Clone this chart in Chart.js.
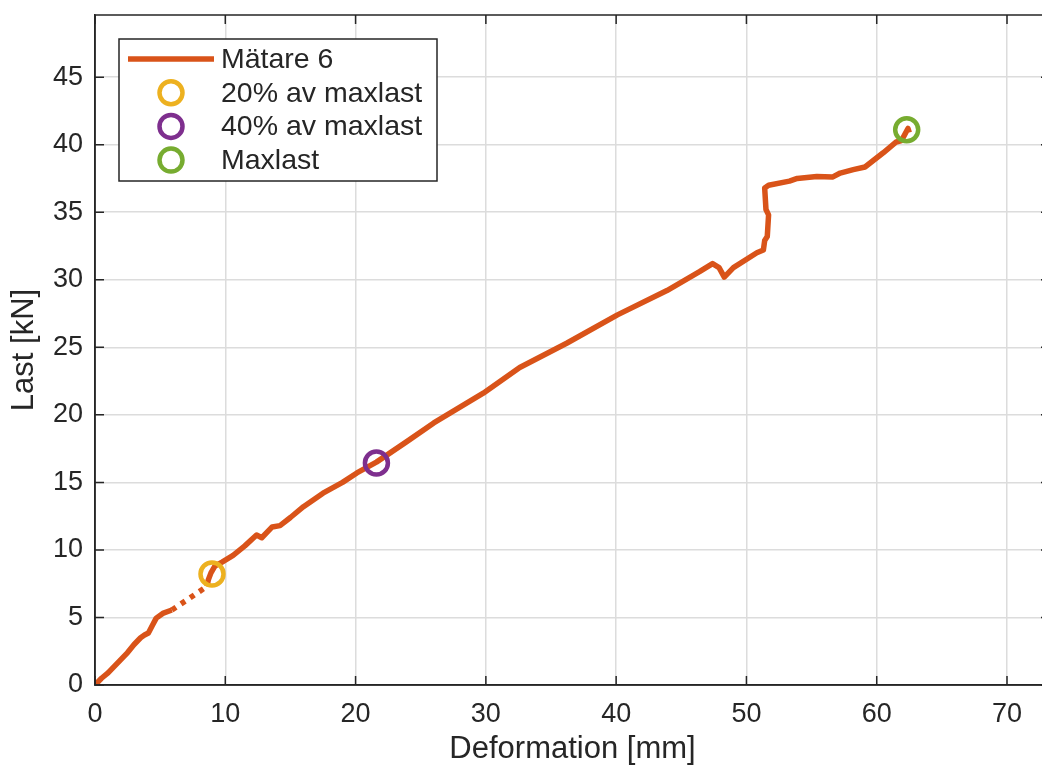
<!DOCTYPE html>
<html>
<head>
<meta charset="utf-8">
<script src="https://cdn.jsdelivr.net/npm/chart.js@4/dist/chart.umd.min.js"></script>
<style>
  html, body { margin: 0; padding: 0; background: #fff; overflow: hidden; }
  body { width: 1042px; height: 769px; }
  canvas { display: block; }
</style>
</head>
<body>
<!-- the figure is a little wider than the window: its right edge is cut off -->
<canvas id="chart" width="1050" height="769"></canvas>
<script>
// Mätare 6 trace
const deformation = [0, 0.5, 1.0, 1.5, 2.0, 2.5, 3.0, 3.5, 3.8, 4.1, 4.4, 4.7, 5.2, 5.9,
    8.6, 8.7, 8.9, 9.2, 9.75, 10.6, 11.5, 12.4, 12.8, 13.6, 14.2, 15.0, 16.0, 17.5, 19.0, 20.1,
    21.6, 23.9, 26.0, 29.8, 32.6, 36.2, 40.1, 43.9, 46.4, 47.4, 47.9, 48.3, 49.0, 50.8, 51.3,
    51.4, 51.6, 51.7, 51.5, 51.4, 51.7, 53.3, 53.9, 55.4, 56.6, 57.2, 58.2, 59.1, 60.5, 61.5,
    61.9, 62.4, 62.5];
const load = [0, 0.5, 0.9, 1.4, 1.9, 2.4, 3.0, 3.5, 3.7, 3.85, 4.4, 4.95, 5.3, 5.55,
    7.3, 7.8, 8.3, 8.8, 9.1, 9.6, 10.3, 11.1, 10.9, 11.7, 11.8, 12.4, 13.2, 14.2, 15.0, 15.7,
    16.5, 18.0, 19.4, 21.6, 23.5, 25.3, 27.4, 29.2, 30.6, 31.2, 30.9, 30.2, 30.9, 32.0, 32.2,
    32.9, 33.2, 34.8, 35.2, 36.8, 37.0, 37.3, 37.5, 37.65, 37.6, 37.9, 38.15, 38.35, 39.4, 40.2,
    40.3, 41.2, 40.9];
// the stretch between these two points is drawn dotted
const gapStart = 13;

// marked points
const markerLabels = ['20% av maxlast', '40% av maxlast', 'Maxlast'];
const markerDef = [8.98, 21.6, 62.3];
const markerLoad = [8.22, 16.44, 41.1];
const markerColors = ['#EDB120', '#7E2F8E', '#77AC30'];

const xTicks = [0, 10, 20, 30, 40, 50, 60, 70];
const yTicks = [0, 5, 10, 15, 20, 25, 30, 35, 40, 45];

const axisColor = '#262626';
const gridColor = '#dcdcdc';
const lineColor = '#D95319';
const fontFamily = '"Liberation Sans", Arial, sans-serif';

const datasets = [{
    label: 'Mätare 6',
    data: deformation.map((x, i) => ({x: x, y: load[i]})),
    showLine: true,
    borderColor: lineColor,
    backgroundColor: lineColor,
    borderWidth: 5.5,
    borderJoinStyle: 'round',
    pointRadius: 0,
    order: 2,
    segment: {
        borderDash: ctx => ctx.p0DataIndex === gapStart ? [5, 6] : undefined
    }
}];
markerLabels.forEach((lbl, i) => {
    datasets.push({
        label: lbl,
        data: [{x: markerDef[i], y: markerLoad[i]}],
        showLine: false,
        borderColor: markerColors[i],
        backgroundColor: 'rgba(0,0,0,0)',
        borderWidth: 4.5,
        pointRadius: 11.5,
        order: 1
    });
});

// no extra room for half-labels at the ends of the axes
function fitNoPad(size) {
    return s => {
        if (s.isHorizontal()) s.height = size; else s.width = size;
        s.paddingTop = 0; s.paddingBottom = 0;
        s.paddingLeft = 0; s.paddingRight = 0;
    };
}

// box, inward tick marks and legend inside the axes, MATLAB style
const boxPlugin = {
    id: 'box',
    afterDraw(chart) {
        const ctx = chart.ctx;
        const a = chart.chartArea;
        const xs = chart.scales.x, ys = chart.scales.y;
        ctx.save();
        ctx.strokeStyle = axisColor;
        ctx.lineWidth = 1.5;
        ctx.strokeRect(a.left, a.top, a.right - a.left, a.bottom - a.top);
        ctx.beginPath();
        xTicks.forEach(v => {
            const px = xs.getPixelForValue(v);
            ctx.moveTo(px, a.bottom); ctx.lineTo(px, a.bottom - 9);
            ctx.moveTo(px, a.top); ctx.lineTo(px, a.top + 9);
        });
        yTicks.forEach(v => {
            const py = ys.getPixelForValue(v);
            ctx.moveTo(a.left, py); ctx.lineTo(a.left + 9, py);
            ctx.moveTo(a.right, py); ctx.lineTo(a.right - 9, py);
        });
        ctx.stroke();

        // legend
        const lx = a.left + 24, ly = a.top + 24, lw = 318, lh = 142;
        ctx.fillStyle = '#fff';
        ctx.fillRect(lx, ly, lw, lh);
        ctx.lineWidth = 1.5;
        ctx.strokeRect(lx, ly, lw, lh);
        ctx.font = '28.5px ' + fontFamily;
        ctx.textBaseline = 'middle';
        chart.data.datasets.forEach((ds, i) => {
            const cy = ly + 20 + i * 33.7;
            ctx.strokeStyle = ds.borderColor;
            ctx.beginPath();
            if (i === 0) {
                ctx.lineWidth = 5.5;
                ctx.moveTo(lx + 9, cy); ctx.lineTo(lx + 95, cy);
            } else {
                ctx.lineWidth = 4.5;
                ctx.arc(lx + 52, cy, 11.5, 0, Math.PI * 2);
            }
            ctx.stroke();
            ctx.fillStyle = axisColor;
            ctx.fillText(ds.label, lx + 102, cy + 1);
        });
        ctx.restore();
    }
};

new Chart(document.getElementById('chart'), {
    type: 'scatter',
    data: {datasets: datasets},
    options: {
        responsive: false,
        animation: false,
        layout: {autoPadding: false, padding: {top: 15, right: 0, left: 0, bottom: 0}},
        plugins: {legend: {display: false}, tooltip: {enabled: false}},
        scales: {
            x: {
                type: 'linear',
                min: 0,
                max: 73.3,
                afterFit: fitNoPad(84),
                afterBuildTicks: s => { s.ticks = xTicks.map(v => ({value: v})); },
                ticks: {
                    color: axisColor,
                    padding: 13,
                    maxRotation: 0,
                    font: {family: fontFamily, size: 27}
                },
                grid: {color: gridColor, lineWidth: 1.5, drawTicks: false},
                border: {color: axisColor, width: 1.5},
                title: {
                    display: true,
                    text: 'Deformation [mm]',
                    color: axisColor,
                    padding: {top: 0, bottom: 1},
                    font: {family: fontFamily, size: 31}
                }
            },
            y: {
                type: 'linear',
                min: 0,
                max: 49.6,
                afterFit: fitNoPad(95),
                afterBuildTicks: s => { s.ticks = yTicks.map(v => ({value: v})); },
                ticks: {
                    color: axisColor,
                    padding: 12,
                    font: {family: fontFamily, size: 27}
                },
                grid: {color: gridColor, lineWidth: 1.5, drawTicks: false},
                border: {color: axisColor, width: 1.5},
                title: {
                    display: true,
                    text: 'Last [kN]',
                    color: axisColor,
                    padding: {top: 6, bottom: 0},
                    font: {family: fontFamily, size: 31}
                }
            }
        }
    },
    plugins: [boxPlugin]
});
</script>
</body>
</html>
